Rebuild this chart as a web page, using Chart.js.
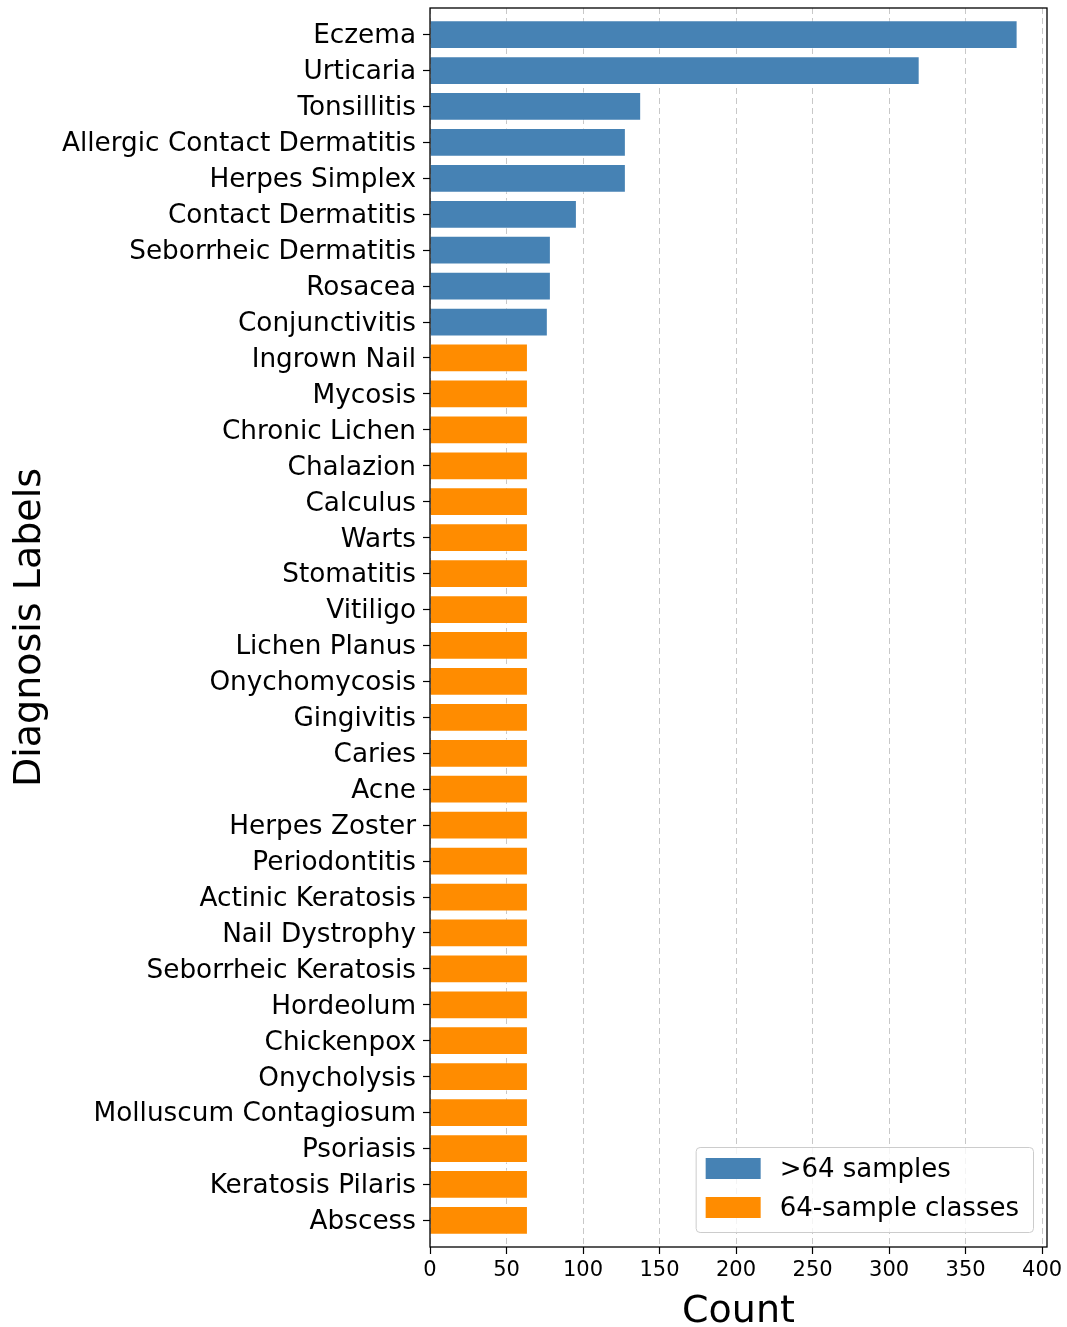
<!DOCTYPE html>
<html>
<head>
<meta charset="utf-8">
<script src="https://cdn.jsdelivr.net/npm/chart.js@4.4.1/dist/chart.umd.min.js"></script>
<style>
  html, body { margin: 0; padding: 0; background: #fff; }
  #wrap { width: 1067px; height: 1327px; }
</style>
</head>
<body>
<div id="wrap"><canvas id="chart" width="1067" height="1327"></canvas></div>
<script>
const diagnoses = [
  "Eczema", "Urticaria", "Tonsillitis", "Allergic Contact Dermatitis", "Herpes Simplex",
  "Contact Dermatitis", "Seborrheic Dermatitis", "Rosacea", "Conjunctivitis", "Ingrown Nail",
  "Mycosis", "Chronic Lichen", "Chalazion", "Calculus", "Warts",
  "Stomatitis", "Vitiligo", "Lichen Planus", "Onychomycosis", "Gingivitis",
  "Caries", "Acne", "Herpes Zoster", "Periodontitis", "Actinic Keratosis",
  "Nail Dystrophy", "Seborrheic Keratosis", "Hordeolum", "Chickenpox", "Onycholysis",
  "Molluscum Contagiosum", "Psoriasis", "Keratosis Pilaris", "Abscess"
];
const counts = [
  384, 320, 138, 128, 128,
  96, 79, 79, 77, 64,
  64, 64, 64, 64, 64,
  64, 64, 64, 64, 64,
  64, 64, 64, 64, 64,
  64, 64, 64, 64, 64,
  64, 64, 64, 64
];
const xTicks = [0, 50, 100, 150, 200, 250, 300, 350, 400];
const seriesLabels = [">64 samples", "64-sample classes"];
const seriesColors = ["#4682b4", "#ff8c00"];

const FONT = "DejaVu Sans";

// split bars into the two legend groups
const bigPts = [], basePts = [];
counts.forEach((c, i) => {
  (c > 64 ? bigPts : basePts).push({ x: c, y: i });
});

// black box round the plot, drawn over the bars like matplotlib spines
const framePlugin = {
  id: "frame",
  afterDatasetsDraw(chart) {
    const { ctx, chartArea: a } = chart;
    ctx.save();
    ctx.strokeStyle = "#000";
    ctx.lineWidth = 1.3;
    ctx.strokeRect(a.left, a.top, a.right - a.left, a.bottom - a.top);
    ctx.restore();
  }
};

// legend inside the plot, lower right
const innerLegend = {
  id: "innerLegend",
  afterDraw(chart) {
    const { ctx, chartArea: a } = chart;
    const items = chart.data.datasets;
    ctx.save();
    ctx.font = "26px '" + FONT + "'";
    const textW = Math.max(...items.map(d => ctx.measureText(d.label).width));
    const patchW = 55, patchH = 21, padX = 10, gap = 19, rowH = 39;
    const w = padX + patchW + gap + textW + 14;
    const h = 85;
    const x = a.right - 14 - w;
    const y = a.bottom - 15 - h;
    ctx.fillStyle = "rgba(255,255,255,0.8)";
    ctx.strokeStyle = "#cccccc";
    ctx.lineWidth = 1;
    ctx.beginPath();
    ctx.roundRect(x + 0.5, y + 0.5, w, h, 4);
    ctx.fill();
    ctx.stroke();
    items.forEach((d, k) => {
      const cy = y + 21.5 + k * rowH;
      ctx.fillStyle = d.backgroundColor;
      ctx.fillRect(x + padX, cy - patchH / 2, patchW, patchH);
      ctx.fillStyle = "#000";
      ctx.textAlign = "left";
      ctx.textBaseline = "middle";
      ctx.fillText(d.label, x + padX + patchW + gap, cy + 1.5);
    });
    ctx.restore();
  }
};

new Chart(document.getElementById("chart"), {
  type: "bar",
  data: {
    datasets: [
      {
        label: seriesLabels[0],
        data: bigPts,
        backgroundColor: seriesColors[0],
        borderColor: "rgba(255,255,255,0.45)",
        borderWidth: 1
      },
      {
        label: seriesLabels[1],
        data: basePts,
        backgroundColor: seriesColors[1],
        borderColor: "rgba(255,255,255,0.45)",
        borderWidth: 1
      }
    ]
  },
  options: {
    responsive: false,
    animation: false,
    indexAxis: "y",
    grouped: false,
    barPercentage: 0.8,
    categoryPercentage: 1.0,
    layout: { padding: { top: 8, right: 20, left: 0, bottom: 0 } },
    plugins: {
      legend: { display: false },
      tooltip: { enabled: false }
    },
    scales: {
      x: {
        type: "linear",
        position: "bottom",
        min: 0,
        max: 403.2,
        afterBuildTicks: s => { s.ticks = xTicks.map(v => ({ value: v })); },
        afterFit: s => { s.height = 80; s.paddingLeft = 0; s.paddingRight = 0; },
        grid: {
          color: "rgba(176,176,176,0.7)",
          lineWidth: 1,
          tickColor: "#000",
          tickLength: 7,
          tickWidth: 1.2
        },
        border: { display: false, dash: [6, 4] },
        ticks: {
          color: "#000",
          font: { family: FONT, size: 21 },
          padding: 4,
          autoSkip: false,
          maxRotation: 0
        },
        title: {
          display: true,
          text: "Count",
          color: "#000",
          font: { family: FONT, size: 38, lineHeight: 0.8 },
          padding: 0
        }
      },
      y: {
        type: "linear",
        reverse: true,
        offset: false,
        min: -0.74,
        max: 33.74,
        afterBuildTicks: s => { s.ticks = diagnoses.map((_, i) => ({ value: i })); },
        afterFit: s => { s.width = 430; s.paddingTop = 0; s.paddingBottom = 0; },
        grid: {
          offset: false,
          drawOnChartArea: false,
          tickColor: "#000",
          tickLength: 7,
          tickWidth: 1.2
        },
        border: { display: false },
        ticks: {
          color: "#000",
          font: { family: FONT, size: 26.3 },
          padding: 7,
          labelOffset: 2,
          autoSkip: false,
          callback: v => diagnoses[v]
        },
        title: {
          display: true,
          text: "Diagnosis Labels",
          color: "#000",
          font: { family: FONT, size: 38 },
          padding: { top: 7, bottom: 0 }
        }
      }
    }
  },
  plugins: [framePlugin, innerLegend]
});
</script>
</body>
</html>
